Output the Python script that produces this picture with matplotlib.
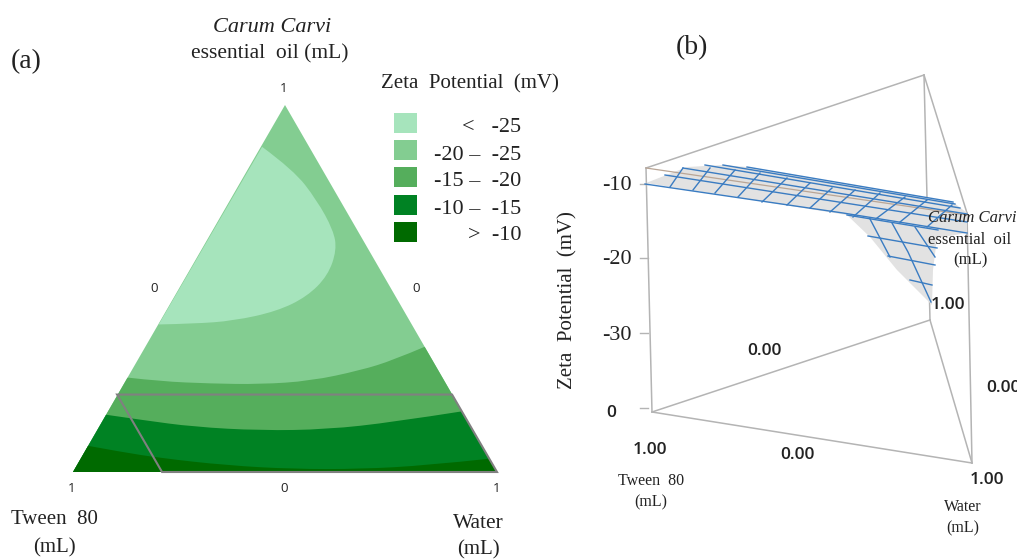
import matplotlib
matplotlib.use('Agg')
import matplotlib.pyplot as plt
from matplotlib.patches import Polygon, Rectangle, PathPatch
from matplotlib.path import Path

SERIF = 'Liberation Serif'
SANS = 'Open Sans'
W, H = 1017, 560
TXT = '#222222'

# ternary map: x along the base (Tween 80 -> Water), y = oil fraction
region_colors = ['#83cd91', '#55ae5c', '#008223', '#006a00']
lightest_color = '#a6e4bc'

lowest_x = [.446, .520, .575, .614, .622, .601, .552, .481, .379, .285, .202]
lowest_y = [.886, .823, .741, .659, .605, .535, .478, .438, .412, .404, .402]

band15_x = [.131, .206, .324, .442, .560, .678, .756, .829]
band15_y = [.257, .247, .241, .239, .248, .277, .305, .341]
band10_x = [.078, .167, .285, .442, .599, .756, .916]
band10_y = [.156, .141, .123, .113, .116, .136, .165]
band_top_x = [.037, .112, .206, .363, .520, .678, .835, .980]
band_top_y = [.071, .055, .038, .018, .008, .008, .018, .036]

region_x = [.104, .894, 1.0, .21]
region_y = [.211, .211, 0.0, 0.0]

legend_labels = ['<   -25', '-20 \u2013  -25', '-15 \u2013  -20', '-10 \u2013  -15', '>  -10']
legend_colors = [lightest_color] + region_colors

# panel b, picture positions of the projected surface
surface_x = [646, 687, 723, 747, 953, 967, 967, 937, 933, 932, 897, 870, 847]
surface_y = [183, 167, 165, 167, 202, 213, 233, 238, 270, 305, 270, 237, 215]

rows = [
    [(645, 184), (843, 213), (967, 233)],
    [(665, 175), (967, 222)],
    [(683, 168), (967, 214)],
    [(705, 165), (960, 208)],
    [(723, 165), (955, 204)],
    [(747, 167), (953, 202)],
    [(847, 215), (938, 230)],
    [(868, 236), (937, 248)],
    [(888, 256), (935, 265)],
    [(910, 280), (932, 285)],
]
crossings = [
    [(683, 168), (670, 187)],
    [(710, 168), (693, 190)],
    [(735, 170), (715, 193)],
    [(760, 173), (738, 197)],
    [(787, 178), (762, 202)],
    [(810, 183), (787, 205)],
    [(832, 188), (810, 208)],
    [(855, 190), (830, 212)],
    [(880, 193), (853, 217)],
    [(905, 197), (877, 218)],
    [(927, 200), (900, 222)],
    [(952, 205), (927, 227)],
    [(870, 219), (890, 257)],
    [(892, 223), (908, 252), (931, 302)],
    [(915, 227), (935, 257)],
]
box_edges = [
    [(646, 168), (652, 412)],
    [(646, 168), (924, 75)],
    [(924, 75), (967, 213)],
    [(924, 75), (930, 320)],
    [(652, 412), (930, 320)],
    [(930, 320), (972, 463)],
    [(652, 412), (972, 463)],
    [(967, 213), (972, 463)],
]
z_ticks = ['-10', '-20', '-30', '0']
z_tick_y = [184, 258, 333, 408]

fig = plt.figure(figsize=(W / 100, H / 100), dpi=100)
ax = fig.add_axes([0, 0, 1, 1])
ax.set_xlim(0, W)
ax.set_ylim(H, 0)
ax.axis('off')

tern = fig.add_axes([73 / W, (H - 472) / H, 424 / W, 367 / H])
tern.set_xlim(0, 1)
tern.set_ylim(0, 1)
tern.axis('off')

triangle = Polygon([(0, 0), (1, 0), (.5, 1)], closed=True, transform=tern.transData,
                   facecolor=region_colors[0], edgecolor='none')
tern.add_patch(triangle)


def smooth_curve(xs, ys):
    # quadratic segments through the read points, so the boundary has no corners
    verts = [(xs[0], ys[0])]
    codes = [Path.MOVETO]
    for i in range(1, len(xs) - 1):
        if i < len(xs) - 2:
            end = ((xs[i] + xs[i + 1]) / 2, (ys[i] + ys[i + 1]) / 2)
        else:
            end = (xs[-1], ys[-1])
        verts += [(xs[i], ys[i]), end]
        codes += [Path.CURVE3, Path.CURVE3]
    return verts, codes


def fill_region(xs, ys, color, below=True):
    verts, codes = smooth_curve(xs, ys)
    if below:
        extra = [(1.1, ys[-1]), (1.1, -.1), (-.1, -.1), (-.1, ys[0]), verts[0]]
    else:
        extra = [verts[0]]
    verts = verts + extra
    codes = codes + [Path.LINETO] * len(extra)
    patch = PathPatch(Path(verts, codes), facecolor=color, edgecolor='none', transform=tern.transData)
    tern.add_patch(patch)
    patch.set_clip_path(triangle)


fill_region(lowest_x, lowest_y, lightest_color, below=False)
fill_region(band15_x, band15_y, region_colors[1])
fill_region(band10_x, band10_y, region_colors[2])
fill_region(band_top_x, band_top_y, region_colors[3])
tern.fill(region_x, region_y, facecolor='none', edgecolor='#808080', lw=1.5, clip_on=False)

# ternary tick labels
for x, y, s in [(284, 89, '1'), (154, 289, '0'), (416, 289, '0'),
                (72, 489, '1'), (284, 489, '0'), (497, 489, '1')]:
    ax.text(x, y, s, ha='center', va='center', fontsize=9.5, family=SANS, fontweight='medium', color=TXT)

# panel labels and axis titles
serif_text = [
    (26, 62, '(a)', 20), (692, 48, '(b)', 20),
    (270, 54, 'essential  oil (mL)', 15.5), (470, 84, 'Zeta  Potential  (mV)', 15),
    (54, 520, 'Tween  80', 15), (54, 548, '(mL)', 15),
    (478, 523, 'Water', 15.5), (478, 550, '(mL)', 15),
    (970, 240, 'essential  oil', 12), (970, 260, '(mL)', 12),
    (651, 481, 'Tween  80', 11.5), (651, 502, '(mL)', 11.5),
    (963, 507, 'Water', 11.5), (963, 528, '(mL)', 11.5),
]
for x, y, s, size in serif_text:
    ax.text(x, y, s, ha='center', va='center', fontsize=size, family=SERIF, color=TXT, zorder=6)
ax.text(272, 28, 'Carum Carvi', ha='center', va='center', fontsize=16, family=SERIF,
        style='italic', color=TXT)
ax.text(972, 218, 'Carum Carvi', ha='center', va='center', fontsize=12, family=SERIF,
        style='italic', color=TXT, zorder=6)

# legend
for i, (label, color) in enumerate(zip(legend_labels, legend_colors)):
    ax.add_patch(Rectangle((394, 113 + 27.2 * i), 23, 20, facecolor=color, edgecolor='none'))
    ax.text(521, 128 + 27 * i, label, ha='right', va='center', fontsize=16, family=SERIF, color=TXT)

# panel b
for edge in box_edges:
    ax.plot(*zip(*edge), color='#b4b4b4', lw=1.1, zorder=1)
ax.fill(surface_x, surface_y, color='#e2e2e2', lw=0, zorder=2)
ax.plot([646, 967], [168, 215], color='#b9a595', lw=0.9, zorder=3)
for line in rows + crossings:
    ax.plot(*zip(*line), color='#3a7cc2', lw=1.0, zorder=4)

for s, y in zip(z_ticks, z_tick_y):
    ax.plot([640, 648], [y, y], color='#b4b4b4', lw=1.0, zorder=1)
    if s == '0':
        ax.text(611, 413, s, ha='center', va='center', fontsize=12.5, family=SANS,
                fontweight='semibold', color=TXT)
    else:
        ax.text(632, y + 2, s, ha='right', va='center', fontsize=16, family=SERIF, color=TXT)
ax.text(568, 300, 'Zeta  Potential  (mV)', rotation=90, ha='center', va='center', fontsize=15,
        family=SERIF, color=TXT)

for x, y, s in [(948, 305, '1.00'), (764, 351, '0.00'), (650, 450, '1.00'),
                (797, 455, '0.00'), (987, 480, '1.00'), (1003, 388, '0.00')]:
    ax.text(x, y, s, ha='center', va='center', fontsize=12.5, family=SANS,
            fontweight='semibold', color=TXT, zorder=6)

fig.savefig('out.png', dpi=100)
